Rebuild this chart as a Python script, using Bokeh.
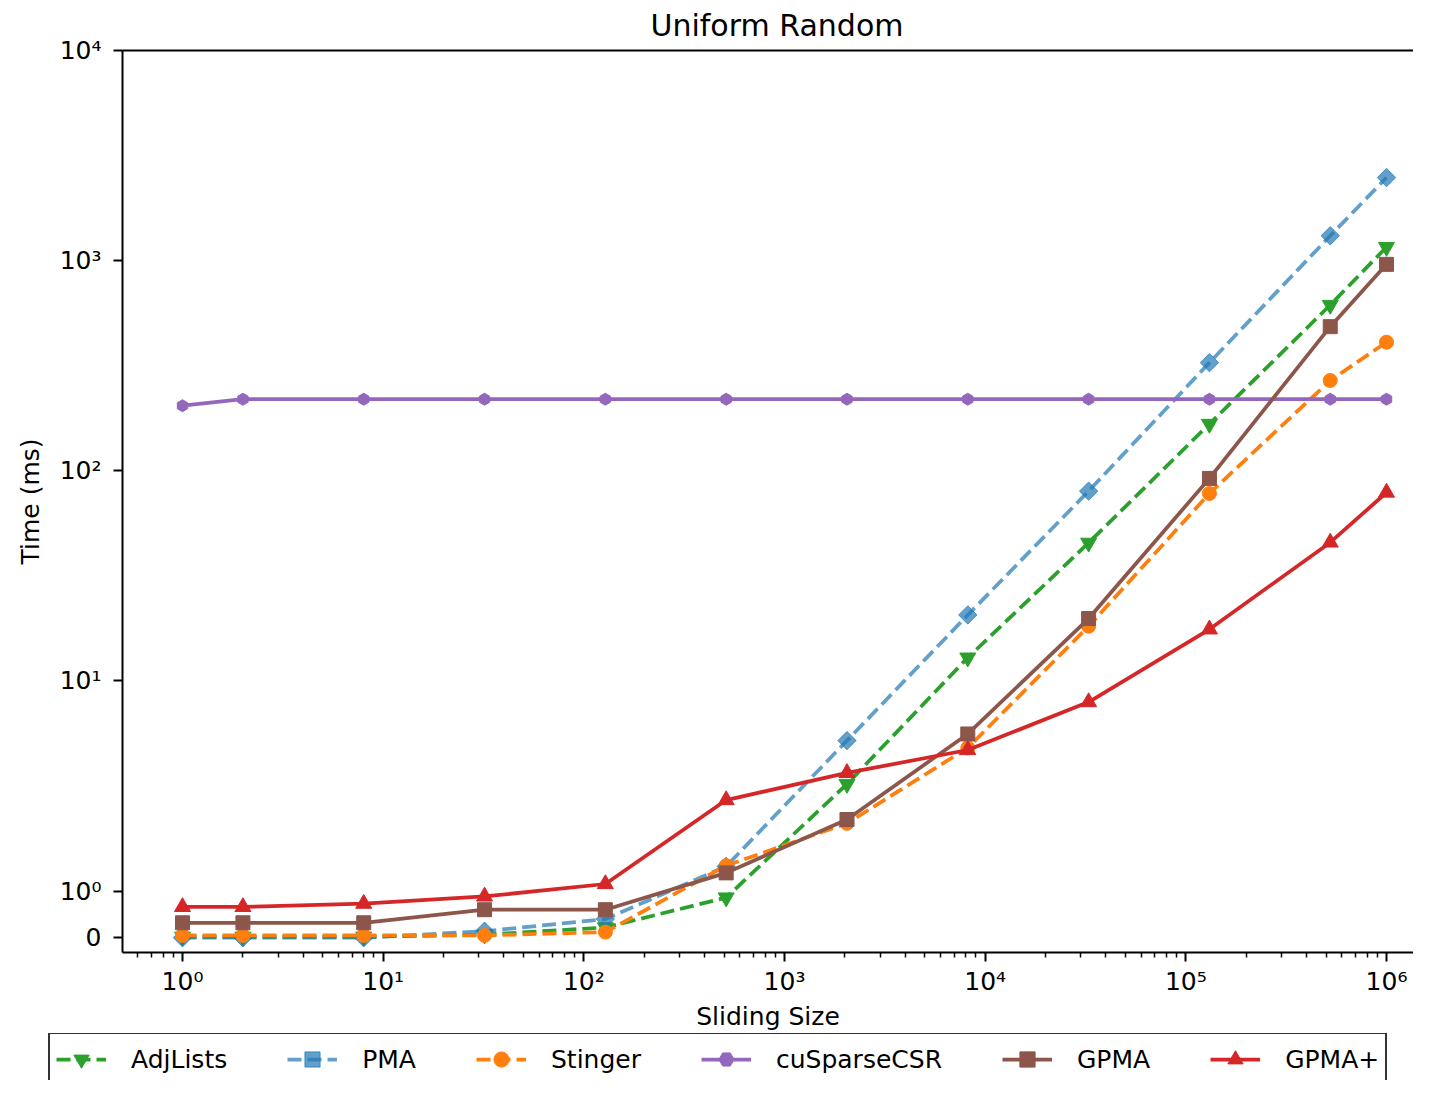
import numpy as np
from bokeh.plotting import figure
from bokeh.layouts import column
from bokeh.models import (Range1d, LogAxis, FixedTicker, CustomJSTickFormatter,
                          Legend, LegendItem)
from bokeh.embed import file_html
from bokeh.resources import INLINE

# ---------------- data ----------------
sizes = [1, 2, 8, 32, 128, 512, 2048, 8192, 32768, 131072, 524288, 1000000]

adjlists = [0.02, 0.02, 0.02, 0.065, 0.22, 0.86, 3.23, 12.9, 45.4, 167, 615, 1160]
pma = [0.0, 0.0, 0.0, 0.14, 0.40, 1.31, 5.2, 20.6, 80, 327, 1313, 2485]
stinger = [0.05, 0.05, 0.05, 0.05, 0.12, 1.32, 2.10, 4.8, 18.2, 78, 269, 409]
cusparse = [204, 219, 219, 219, 219, 219, 219, 219, 219, 219, 219, 219]
gpma = [0.32, 0.32, 0.32, 0.60, 0.60, 1.22, 2.19, 5.59, 19.8, 92, 485, 960]
gpma_plus = [0.66, 0.66, 0.73, 0.885, 1.08, 2.71, 3.65, 4.69, 7.93, 17.6, 45.6, 78.8]

series_names = ["AdjLists", "PMA", "Stinger", "cuSparseCSR", "GPMA", "GPMA+"]

x_tick_values = [1, 10, 100, 1000, 10000, 100000, 1000000]
x_tick_labels = ["10\u2070", "10\u00b9", "10\u00b2", "10\u00b3", "10\u2074", "10\u2075", "10\u2076"]
y_tick_values = [0, 1, 10, 100, 1000, 10000]
y_tick_labels = ["0", "10\u2070", "10\u00b9", "10\u00b2", "10\u00b3", "10\u2074"]

title_text = "Uniform Random"
x_label = "Sliding Size"
y_label = "Time (ms)"

# ---------------- symlog transform (linthresh=1, linscale=0.2) ----------------
LINTHRESH = 1.0
LINSCALE = 0.2
K = LINSCALE / (1.0 - 1.0 / 10.0)


def symlog(v):
    v = np.asarray(v, dtype=float)
    a = np.abs(v)
    safe = np.maximum(a, 1e-300)
    return np.where(a <= LINTHRESH, v * K,
                    np.sign(v) * LINTHRESH * (K + np.log10(safe / LINTHRESH)))


FONT = "DejaVu Sans"
W = 1413
H_MAIN = 1033
H_LEG = 1080 - H_MAIN

p = figure(width=W, height=H_MAIN,
           x_axis_type="log",
           x_range=Range1d(0.5023, 1.363e6),
           y_range=Range1d(-0.0703, float(symlog([10000])[0])),
           output_backend="svg", toolbar_location=None,
           min_border_left=122, min_border_right=0,
           min_border_top=50, min_border_bottom=81,
           background_fill_color="white", border_fill_color="white",
           outline_line_color=None)
p.frame_align = False

p.xgrid.visible = False
p.ygrid.visible = False

# title
p.title.text = title_text
p.title.text_font = FONT
p.title.text_font_size = "30px"
p.title.text_font_style = "normal"
p.title.text_color = "black"
p.title.align = "left"
p.title.offset = 528
p.title.standoff = 13
p.title.vertical_align = "middle"

# x axis (bottom)
xa = p.xaxis[0]
x_minor = [k * 10.0 ** d for d in range(-1, 7) for k in range(2, 10)]
xa.ticker = FixedTicker(ticks=x_tick_values, minor_ticks=x_minor)
xa.formatter = CustomJSTickFormatter(
    args=dict(pos=[float(np.log10(v)) for v in x_tick_values], labels=x_tick_labels),
    code="""
const t = Math.log10(tick);
let best = 0, bd = Infinity;
for (let i = 0; i < pos.length; i++) { const d = Math.abs(pos[i] - t); if (d < bd) { bd = d; best = i; } }
return labels[best];
""")
xa.axis_label = x_label

# y axis (left) in symlog coordinates
ya = p.yaxis[0]
y_pos = [float(v) for v in symlog(y_tick_values)]
ya.ticker = FixedTicker(ticks=y_pos, minor_ticks=[])
ya.formatter = CustomJSTickFormatter(
    args=dict(pos=y_pos, labels=y_tick_labels),
    code="""
let best = 0, bd = Infinity;
for (let i = 0; i < pos.length; i++) { const d = Math.abs(pos[i] - tick); if (d < bd) { bd = d; best = i; } }
return labels[best];
""")
ya.axis_label = y_label

for ax in (xa, ya):
    ax.axis_line_color = "black"
    ax.axis_line_width = 2
    ax.major_tick_line_color = "black"
    ax.major_tick_line_width = 2
    ax.major_tick_out = 9
    ax.major_tick_in = 0
    ax.minor_tick_line_color = "black"
    ax.minor_tick_line_width = 1.5
    ax.minor_tick_out = 5
    ax.minor_tick_in = 0
    ax.major_label_text_font = FONT
    ax.major_label_text_font_size = "25px"
    ax.major_label_text_color = "black"
    ax.axis_label_text_font = FONT
    ax.axis_label_text_font_size = "25px"
    ax.axis_label_text_font_style = "normal"
    ax.axis_label_text_color = "black"

xa.major_label_standoff = 5
xa.axis_label_standoff = 3
ya.major_label_standoff = 12
ya.axis_label_standoff = 12

# top spine
top = LogAxis(ticker=FixedTicker(ticks=[], minor_ticks=[]),
              axis_line_color="black", axis_line_width=2,
              major_tick_out=0, major_tick_in=0, minor_tick_out=0, minor_tick_in=0,
              major_label_text_font_size="0px", major_label_standoff=0)
p.add_layout(top, "above")

# ---------------- series ----------------
xs = np.asarray(sizes, dtype=float)
styles = [
    # name, values, color, alpha, dash, marker, size, angle
    ("AdjLists", adjlists, "#2ca02c", 1.0, "14 6", "inverted_triangle", 16, 0.0),
    ("PMA", pma, "#1f77b4", 0.7, "14 6", "square", 13, np.pi / 4),
    ("Stinger", stinger, "#ff7f0e", 1.0, "14 6", "circle", 14, 0.0),
    ("cuSparseCSR", cusparse, "#9467bd", 1.0, "solid", "hex", 12, np.pi / 6),
    ("GPMA", gpma, "#8c564b", 1.0, "solid", "square", 14, 0.0),
    ("GPMA+", gpma_plus, "#d62728", 1.0, "solid", "triangle", 16, 0.0),
]

# legend strip (separate canvas under the plot, like the matplotlib legend below the axes)
q = figure(width=W, height=H_LEG, x_range=Range1d(0, 1), y_range=Range1d(0, 1),
           output_backend="svg", toolbar_location=None,
           x_axis_location=None, y_axis_location=None,
           min_border=0, min_border_left=0, min_border_right=0,
           min_border_top=0, min_border_bottom=0,
           background_fill_color="white", border_fill_color="white",
           outline_line_color=None)
q.frame_align = False
q.xgrid.visible = False
q.ygrid.visible = False

items = []
for name, vals, color, alpha, dash, marker, size, angle in styles:
    ys = symlog(vals)
    p.line(xs, ys, line_color=color, line_alpha=alpha, line_width=3.75, line_dash=dash)
    p.scatter(xs, ys, marker=marker, size=size, angle=angle,
              fill_color=color, fill_alpha=alpha, line_color=color, line_alpha=alpha,
              line_width=1)
    # legend key glyphs: same styling, placed off-canvas so only the legend shows them
    lr = q.line([-3, -2], [-3, -2], line_color=color, line_alpha=alpha,
                line_width=3.75, line_dash=dash)
    sr = q.scatter([-3], [-3], marker=marker, size=size, angle=angle,
                   fill_color=color, fill_alpha=alpha, line_color=color, line_alpha=alpha,
                   line_width=1)
    items.append(LegendItem(label=name, renderers=[lr, sr]))

legend = Legend(items=items, orientation="horizontal", location=(48, -6),
                label_text_font=FONT, label_text_font_size="25px", label_text_color="black",
                glyph_width=50, glyph_height=38, label_standoff=25, spacing=60,
                padding=6, margin=0,
                border_line_color="#333333", border_line_width=2, border_line_alpha=1.0,
                background_fill_color="white", background_fill_alpha=0.8)
q.add_layout(legend, "center")

layout = column(p, q, spacing=0)
open("out.html", "w").write(file_html(layout, INLINE))
